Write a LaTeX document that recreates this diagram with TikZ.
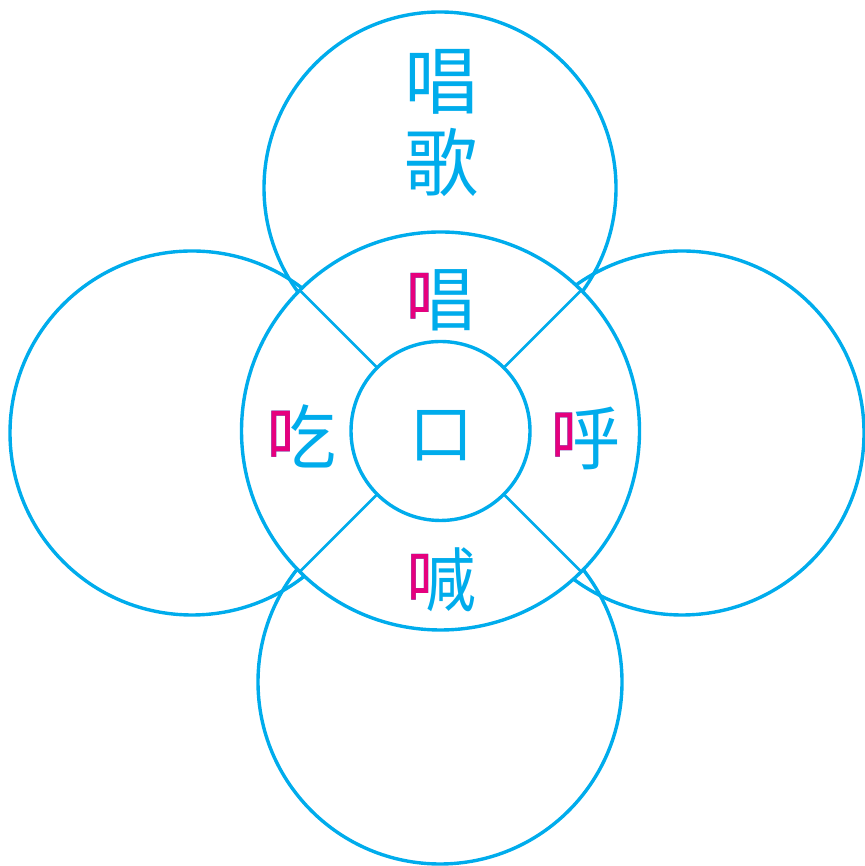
\documentclass[tikz,border=0pt]{standalone}
\usepackage{fontspec}
\newfontfamily\cjk{Noto Sans CJK SC}
\definecolor{cblue}{RGB}{0,172,236}
\definecolor{cmag}{RGB}{230,0,126}
\tikzset{
  ring/.style={circle, draw=cblue, line width=3.4pt, inner sep=0pt, outer sep=0pt},
  spoke/.style={draw=cblue, line width=2.6pt},
  ch/.style={inner sep=0pt, outer sep=0pt, text=cblue, font=\cjk\fontsize{#1}{#1}\selectfont},
}
% two-colour character: name, position, char, size, split (em), clip bottom (em above baseline)
\newcommand{\twochar}[6]{%
  \node[ch=#4] (#1) at (#2) {#3};
  \begin{scope}
    \clip ([xshift=-10pt,yshift=#6*#4 pt]#1.base west) rectangle ([xshift=#5*#4 pt,yshift=#4 pt]#1.base west);
    \node[ch=#4, text=cmag] at (#2) {#3};
  \end{scope}}
\begin{document}
\begin{tikzpicture}[x=1pt,y=1pt]
\useasboundingbox (0,0) rectangle (864,866);
% outer circles
\node[ring, minimum size=352pt] (top) at (440,678) {};
\node[ring, minimum size=364pt] (left) at (192,433) {};
\node[ring, minimum size=364pt] (right) at (682,433) {};
\node[ring, minimum size=364pt] (bottom) at (440,184) {};
% middle and inner circles
\node[ring, fill=white, minimum size=398pt] (mid) at (440.5,435) {};
\node[ring, fill=white, minimum size=179pt] (inner) at (440.5,435) {};
% spokes
\foreach \a in {45,135,225,315} \draw[spoke] (inner.\a) -- (mid.\a);
% texts
\node[ch=64] (kou) at (441,430) {口};
\node[ch=74] (chang1) at (441,784) {唱};
\node[ch=74] (ge) at (441,703) {歌};
\twochar{chang2}{440,566}{唱}{70}{0.37}{-0.3}
\twochar{chi}{301,430}{吃}{70}{0.352}{-0.3}
\twochar{hu}{585,428}{呼}{70}{0.34}{-0.3}
\twochar{han}{441,286}{喊}{70}{0.335}{0.085}
\end{tikzpicture}
\end{document}
